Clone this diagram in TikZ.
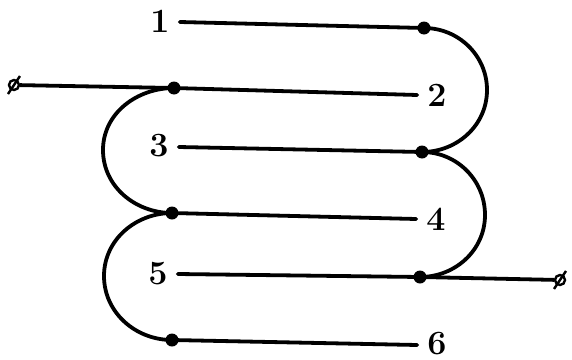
\documentclass[tikz,border=0pt]{standalone}
\usetikzlibrary{calc}
\begin{document}
\begin{tikzpicture}[x=1pt,y=-1pt,
  wire/.style={line width=3.8pt,line cap=round},
  dotnode/.style={circle,fill=black,inner sep=0pt,minimum size=13pt},
  lbl/.style={font=\fontsize{34}{40}\selectfont\bfseries,inner sep=0pt},
  term/.style={circle,draw=black,line width=2.4pt,inner sep=0pt,minimum size=10pt}]
\useasboundingbox (0,0) rectangle (572,359);
% dots
\node[dotnode] (d1) at (424,28) {};
\node[dotnode] (d2) at (174,88) {};
\node[dotnode] (d3) at (422,152) {};
\node[dotnode] (d4) at (172,213) {};
\node[dotnode] (d5) at (420,277) {};
\node[dotnode] (d6) at (172,340) {};
% labels
\node[lbl] (l1) at (160,21) {1};
\node[lbl] (l2) at (437,95) {2};
\node[lbl] (l3) at (159,146) {3};
\node[lbl] (l4) at (436,219) {4};
\node[lbl] (l5) at (158,274) {5};
\node[lbl] (l6) at (437,344) {6};
% terminals
\node[term] (t1) at (14,85) {};
\node[term] (t2) at (560,280) {};
\draw[line width=2.4pt] ($(t1)+(-6,9)$) -- ($(t1)+(6,-9)$);
\draw[line width=2.4pt] ($(t2)+(-6,9)$) -- ($(t2)+(6,-9)$);
% arc turning points
\coordinate (r1) at (487,90);
\coordinate (r2) at (485,215);
\coordinate (q1) at (103,150);
\coordinate (q2) at (104,276);
% straight wires
\draw[wire] ($(l1.east)+(10,1)$) coordinate (s1) -- (d1.center);
\draw[wire] (t1) -- (d2.center) -- ($(l2.west)+(-10,0)$) coordinate (e2);
\draw[wire] ($(l3.east)+(10,1)$) coordinate (s3) -- (d3.center);
\draw[wire] (d4.center) -- ($(l4.west)+(-10,0)$) coordinate (e4);
\draw[wire] ($(l5.east)+(10,0)$) coordinate (s5) -- (d5.center) -- (t2);
\draw[wire] (d6.center) -- ($(l6.west)+(-10,1)$) coordinate (e6);
% bends
\draw[wire] (d1.center) to[out=0,in=90] (r1) to[out=-90,in=0] (d3.center);
\draw[wire] (d3.center) to[out=0,in=90] (r2) to[out=-90,in=0] (d5.center);
\draw[wire] (d2.center) to[out=180,in=90] (q1) to[out=-90,in=180] (d4.center);
\draw[wire] (d4.center) to[out=180,in=90] (q2) to[out=-90,in=180] (d6.center);
\end{tikzpicture}
\end{document}
